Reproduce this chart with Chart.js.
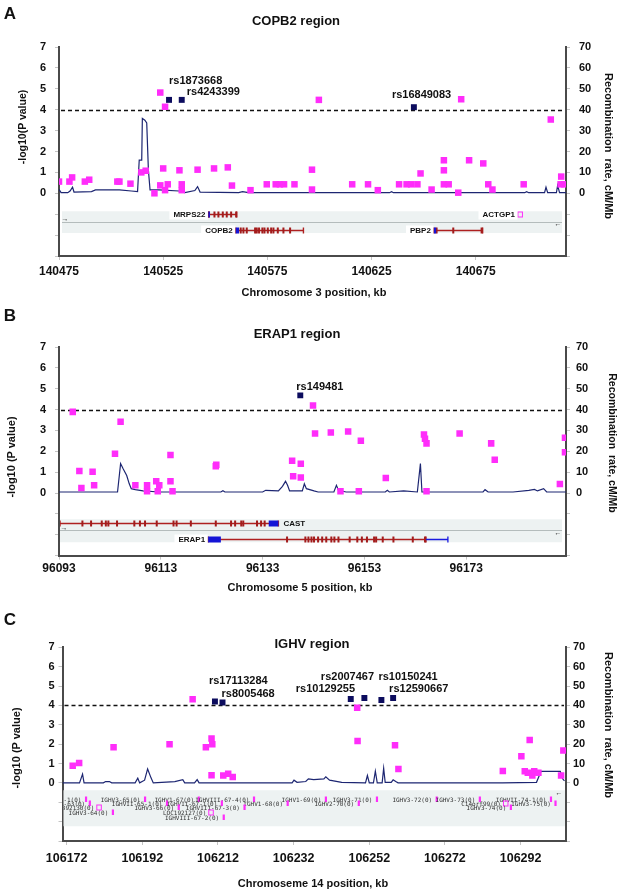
<!DOCTYPE html>
<html>
<head>
<meta charset="utf-8">
<script src="https://cdn.jsdelivr.net/npm/chart.js@4.4.1/dist/chart.umd.min.js"></script>
<style>
html, body { margin: 0; padding: 0; background: #fff; }
#fig { position: relative; width: 620px; height: 893px; overflow: hidden;
       font-family: "Liberation Sans", Arial, sans-serif; color: #111; }
#fig canvas { position: absolute; left: 0; }
.t { position: absolute; white-space: pre; font-weight: bold; line-height: 1;
     transform: translate(-50%, -50%); }
.up { transform: translate(-50%, -50%) rotate(-90deg); }
.down { transform: translate(-50%, -50%) rotate(90deg); }
</style>
</head>
<body>
<div id="fig">
  <canvas id="chA" width="620" height="300" style="top:0px"></canvas>
  <canvas id="chB" width="620" height="305" style="top:290px"></canvas>
  <canvas id="chC" width="620" height="298" style="top:595px"></canvas>

  <div class="t" style="left:10px;top:13px;font-size:17px">A</div>
  <div class="t" style="left:296px;top:20px;font-size:13px">COPB2 region</div>
  <div class="t up" style="left:22px;top:127px;font-size:10.5px">-log10(P value)</div>
  <div class="t down" style="left:608px;top:146px;font-size:11px">Recombination  rate, cM/Mb</div>
  <div class="t" style="left:314px;top:292px;font-size:11px">Chromosome 3 position, kb</div>

  <div class="t" style="left:10px;top:315px;font-size:17px">B</div>
  <div class="t" style="left:297px;top:333px;font-size:13px">ERAP1 region</div>
  <div class="t up" style="left:11px;top:457px;font-size:11px">-log10 (P value)</div>
  <div class="t down" style="left:613px;top:443px;font-size:10.5px">Recombination  rate, cM/Mb</div>
  <div class="t" style="left:300px;top:587px;font-size:11px">Chromosome 5 position, kb</div>

  <div class="t" style="left:10px;top:619px;font-size:17px">C</div>
  <div class="t" style="left:312px;top:643px;font-size:13px">IGHV region</div>
  <div class="t up" style="left:16px;top:748px;font-size:11px">-log10 (P value)</div>
  <div class="t down" style="left:608px;top:725px;font-size:11px">Recombination  rate, cM/Mb</div>
  <div class="t" style="left:313px;top:883px;font-size:11px">Chromoseme 14 position, kb</div>
</div>

<script>
// shared axis ticks (negative ticks are the unlabelled gene-track part)
const yTicks = [-3, -2, -1, 0, 1, 2, 3, 4, 5, 6, 7];
const y2Ticks = [-30, -20, -10, 0, 10, 20, 30, 40, 50, 60, 70];
const threshold = 4;

// ---- A: COPB2 region, chromosome 3 ----
const aXTicks = [140475, 140525, 140575, 140625, 140675];
const aSnpPos = [140475.0, 140480.0, 140481.3, 140487.4, 140489.5, 140503.0, 140504.0, 140509.3, 140514.5, 140516.6,
  140520.8, 140523.6, 140523.6, 140525.0, 140525.9, 140525.9, 140527.2, 140532.8, 140533.9, 140533.9,
  140541.5, 140549.4, 140556.0, 140558.0, 140566.9, 140574.7, 140579.0, 140581.0, 140583.0, 140588.0,
  140596.4, 140596.4, 140599.7, 140615.7, 140623.3, 140628.0, 140638.2, 140641.8, 140644.0, 140647.0,
  140648.5, 140653.8, 140659.7, 140659.7, 140659.7, 140662.0, 140666.6, 140668.0, 140671.8, 140678.6,
  140681.0, 140683.0, 140698.0, 140711.0, 140716.0, 140715.7, 140717.5];
const aSnpLogP = [0.56, 0.56, 0.76, 0.56, 0.65, 0.56, 0.56, 0.46, 1.00, 1.08,
  0.00, 4.82, 0.38, 1.19, 4.14, 0.15, 0.43, 1.10, 0.43, 0.15,
  1.13, 1.19, 1.24, 0.37, 0.15, 0.43, 0.43, 0.43, 0.43, 0.43,
  1.13, 0.18, 4.47, 0.43, 0.43, 0.15, 0.43, 0.43, 0.43, 0.43,
  0.95, 0.18, 1.58, 1.10, 0.43, 0.43, 0.03, 4.50, 1.58, 1.43,
  0.43, 0.18, 0.43, 3.53, 0.80, 0.43, 0.43];
const aTopIds = ['rs1873668', 'rs4243399', 'rs16849083'];
const aTopPos = [140527.8, 140533.9, 140645.3];
const aTopLogP = [4.47, 4.47, 4.12];
const aRecPos = [140475.0, 140476.0, 140479.2, 140480.3, 140481.5, 140482.2, 140490.6, 140492.5, 140504.0, 140509.7,
  140512.7, 140513.5, 140514.7, 140515.0, 140516.2, 140517.1, 140517.9, 140518.7, 140523.0, 140532.6,
  140535.4, 140540.2, 140541.5, 140542.7, 140561.2, 140563.1, 140565.9, 140633.6, 140634.6, 140635.5,
  140698.5, 140699.4, 140700.4, 140708.0, 140708.7, 140709.5, 140713.7, 140714.3, 140715.2, 140718.3];
const aRecRate = [1.9, 0.3, 0.3, 1.1, 2.9, 0.6, 0.8, 1.6, 1.6, 1.1,
  0.8, 15.9, 15.9, 35.8, 35.0, 33.7, 11.1, 1.6, 1.6, 1.1,
  0.3, 1.3, 3.2, 0.6, 0.3, 0.8, 0.3, 0.3, 0.8, 0.3,
  0.3, 0.8, 0.3, 0.3, 2.9, 0.3, 0.3, 3.8, 0.3, 0.3];
const aGeneNames = ['MRPS22', 'COPB2', 'PBP2', 'ACTGP1'];
const aGeneRow = [0, 1, 1, 0];
const aGeneKind = ['gene', 'gene', 'gene', 'pseudo'];
const aGeneSide = ['left', 'left', 'left', 'left'];
const aGeneStart = [140546.7, 140559.8, 140654.9, 140696.2];
const aGeneEnd = [140560.3, 140592.3, 140678.3, 140696.2];
const aGeneExons = [
  [140547.0, 140549.6, 140551.5, 140553.6, 140555.5, 140557.6, 140560.0],
  [140562.2, 140563.5, 140565.1, 140569.1, 140569.9, 140571.0, 140572.6, 140573.6, 140575.2, 140576.8,
   140577.9, 140580.0, 140582.7, 140585.9],
  [140656.2, 140664.2, 140677.8],
  []];
const aGeneUtr = [[140546.7, 140547.3], [140559.8, 140561.4], [140654.9, 140656.0], null];
const aGeneTail = [null, null, null, null];

// ---- B: ERAP1 region, chromosome 5 ----
const bXTicks = [96093, 96113, 96133, 96153, 96173];
const bSnpPos = [96095.7, 96097.0, 96099.6, 96099.9, 96097.4, 96105.1, 96104.0, 96108.0, 96110.3, 96110.3,
  96112.1, 96112.7, 96112.4, 96114.9, 96114.9, 96115.3, 96123.8, 96123.9, 96138.8, 96140.5,
  96139.0, 96140.5, 96142.9, 96143.3, 96146.4, 96149.8, 96152.3, 96148.3, 96151.9, 96157.2,
  96164.7, 96164.9, 96165.2, 96165.2, 96171.7, 96177.9, 96178.6, 96191.4, 96192.4, 96192.4];
const bSnpLogP = [3.89, 1.06, 1.02, 0.37, 0.24, 3.42, 1.88, 0.37, 0.37, 0.08,
  0.56, 0.37, 0.08, 1.82, 0.56, 0.08, 1.28, 1.36, 1.55, 1.40,
  0.80, 0.74, 4.20, 2.85, 2.90, 2.95, 2.50, 0.08, 0.08, 0.72,
  2.80, 2.60, 2.38, 0.08, 2.85, 2.38, 1.60, 0.43, 2.65, 1.95];
const bTopIds = ['rs149481'];
const bTopPos = [96140.4];
const bTopLogP = [4.68];
const bRecPos = [96093.0, 96104.5, 96105.1, 96105.6, 96106.3, 96106.8, 96107.2, 96108.0, 96109.5, 96112.7,
  96124.8, 96125.2, 96125.6, 96133.0, 96133.6, 96136.1, 96136.9, 96137.5, 96137.9, 96138.3,
  96140.8, 96141.2, 96141.6, 96143.1, 96143.9, 96147.0, 96147.5, 96147.9, 96149.4, 96157.1,
  96157.5, 96157.9, 96160.7, 96163.4, 96164.0, 96164.3, 96176.3, 96176.7, 96177.3, 96182.2,
  96185.3, 96186.4, 96187.0, 96188.2, 96188.8, 96192.6];
const bRecRate = [0.5, 0.5, 14.1, 11.6, 8.4, 4.4, 2.1, 1.6, 1.0, 0.5,
  0.5, 1.1, 0.5, 0.5, 1.3, 1.0, 3.2, 5.6, 3.7, 1.0,
  1.0, 4.4, 2.1, 1.0, 0.5, 0.5, 3.7, 1.3, 0.5, 0.5,
  1.3, 0.5, 1.0, 0.5, 14.1, 0.5, 0.5, 1.6, 0.5, 0.5,
  1.3, 1.7, 1.0, 2.1, 0.5, 0.5];
const bGeneNames = ['CAST', 'ERAP1'];
const bGeneRow = [0, 1];
const bGeneKind = ['gene', 'gene'];
const bGeneSide = ['right', 'left'];
const bGeneStart = [96093.2, 96122.3];
const bGeneEnd = [96136.1, 96165.1];
const bGeneExons = [
  [96097.6, 96099.3, 96101.4, 96102.2, 96102.7, 96104.4, 96107.8, 96108.9, 96109.9, 96112.2,
   96115.5, 96116.1, 96118.9, 96123.8, 96126.8, 96127.6, 96128.8, 96129.2, 96131.9, 96132.7, 96133.4],
  [96137.8, 96141.4, 96142.0, 96142.6, 96143.1, 96143.9, 96144.7, 96145.5, 96146.5, 96147.1,
   96147.9, 96150.1, 96151.6, 96152.5, 96153.5, 96154.9, 96155.3, 96156.6, 96158.7, 96162.5, 96164.9]];
const bGeneUtr = [[96134.2, 96136.1], [96122.3, 96124.8]];
const bGeneTail = [null, [96165.1, 96169.4]];

// ---- C: IGHV region, chromosome 14 ----
const cXTicks = [106172, 106192, 106212, 106232, 106252, 106272, 106292];
const cSnpPos = [106173.6, 106175.3, 106184.4, 106199.2, 106205.3, 106208.8, 106210.3, 106210.5, 106210.3, 106213.4,
  106214.7, 106215.9, 106248.8, 106248.9, 106258.8, 106259.7, 106287.3, 106292.2, 106294.4, 106293.1,
  106293.9, 106295.1, 106295.6, 106296.7, 106302.7, 106303.3];
const cSnpLogP = [0.88, 1.03, 1.84, 1.99, 4.32, 1.84, 2.29, 1.99, 0.40, 0.38,
  0.47, 0.31, 3.88, 2.16, 1.94, 0.72, 0.62, 1.37, 2.21, 0.60,
  0.52, 0.38, 0.60, 0.52, 0.38, 1.67];
const cTopIds = ['rs17113284', 'rs8005468', 'rs10129255', 'rs2007467', 'rs10150241', 'rs12590667'];
const cTopPos = [106211.2, 106213.2, 106247.1, 106250.7, 106255.2, 106258.3];
const cTopLogP = [4.20, 4.15, 4.33, 4.38, 4.28, 4.38];
const cRecPos = [106170.9, 106175.4, 106176.2, 106176.6, 106181.7, 106182.3, 106183.3, 106183.9, 106190.1, 106190.8,
  106191.3, 106192.6, 106193.4, 106194.3, 106194.9, 106200.6, 106202.7, 106203.2, 106205.8, 106206.5,
  106207.0, 106231.6, 106232.1, 106232.9, 106235.2, 106235.9, 106237.3, 106240.0, 106240.5, 106241.5,
  106244.7, 106251.0, 106251.5, 106252.0, 106253.1, 106253.6, 106254.1, 106255.4, 106255.8, 106256.2,
  106257.8, 106258.3, 106259.0, 106259.6, 106287.2, 106296.2, 106297.4, 106302.5, 106303.1, 106303.6];
const cRecRate = [0, 0, 4.5, 0, 0, 0.7, 0.7, 0, 0, 2.4,
  0, 1.4, 7.2, 2.6, 0, 0.7, 1.7, 0, 0, 1.7,
  0, 0, 1.4, 0.3, 0.7, 2.1, 1.7, 2.1, 3.1, 1.4,
  0.3, 0, 3.8, 0, 0, 6.0, 0, 0, 7.6, 0.3,
  0.3, 1.6, 0.7, 0, 0, 0.3, 6.0, 5.9, 2.1, 1.0];
const cGeneNames = ['IGHVII-62-1(0)', 'IGHV3-65(0)', 'IGHV1-67(0)', 'IGHVIII-67-4(0)', 'IGHV1-69(0)', 'IGHV3-71(0)',
  'IGHV3-72(0)', 'IGHV3-73(0)', 'IGHVII-74-1(0)',
  'IGHV3-63(0)', 'IGHVII-65-1(0)', 'IGHVII-67-1(0)', 'IGHV1-68(0)', 'IGHV2-70(0)', 'C14orf99(0)', 'IGHV3-75(0)',
  'LOC392130(0)', 'IGHV3-66(0)', 'IGHVIII-67-3(0)', 'IGHV3-74(0)',
  'IGHV3-64(0)', 'LOC192127(0)',
  'IGHVIII-67-2(0)'];
const cGenePos = [106177.1, 106192.7, 106206.9, 106221.5, 106240.5, 106254.0, 106269.8, 106281.2, 106300.0,
  106178.1, 106198.5, 106213.0, 106230.4, 106249.2, 106288.0, 106301.2,
  106180.5, 106201.6, 106219.0, 106289.4,
  106184.2, 106210.1,
  106213.5];
const cGeneRow = [0, 0, 0, 0, 0, 0, 0, 0, 0, 1, 1, 1, 1, 1, 1, 1, 2, 2, 2, 2, 3, 3, 4];
const cGeneKind = ['bar', 'bar', 'bar', 'bar', 'bar', 'bar', 'bar', 'bar', 'bar',
  'bar', 'bar', 'bar', 'bar', 'bar', 'pseudo', 'bar',
  'pseudo', 'bar', 'bar', 'bar',
  'bar', 'pseudo', 'bar'];

const FONT = '"Liberation Sans", Arial, sans-serif';
const PINK = '#ff2dfa';
const NAVY = '#0c0c5e';

function geneList(names, rows, kinds, sides, starts, ends, exons, utr, tail) {
  return names.map(function (name, i) {
    return {
      name: name, row: rows[i], kind: kinds[i], side: sides ? sides[i] : 'left',
      start: starts[i], end: ends ? ends[i] : starts[i],
      exons: exons ? exons[i] : [], utr: utr ? utr[i] : null, tail: tail ? tail[i] : null
    };
  });
}

function drawGene(ctx, x, y, o, g) {
  const cy = Math.round(y.getPixelForValue(o.rowY[g.row])) + 0.5;
  const x0 = x.getPixelForValue(g.start);
  const x1 = x.getPixelForValue(g.end);
  if (g.kind === 'pseudo') {
    ctx.strokeStyle = PINK; ctx.lineWidth = 1;
    ctx.strokeRect(x0 - 2, cy - 2.5, 4.5, 5);
  } else if (g.kind === 'bar') {
    ctx.fillStyle = PINK;
    ctx.fillRect(x0 - 1, cy - 3, 2.2, 5.5);
  } else {
    ctx.strokeStyle = '#ae2020'; ctx.lineWidth = 1.4;
    ctx.beginPath(); ctx.moveTo(x0, cy); ctx.lineTo(x1, cy);
    ctx.moveTo(x0, cy - 3); ctx.lineTo(x0, cy + 3);
    ctx.moveTo(x1, cy - 3); ctx.lineTo(x1, cy + 3);
    ctx.stroke();
    ctx.fillStyle = '#a31c1c';
    g.exons.forEach(function (e) {
      ctx.fillRect(x.getPixelForValue(e) - 1, cy - 3, 2, 6);
    });
    if (g.utr) {
      const u0 = x.getPixelForValue(g.utr[0]), u1 = x.getPixelForValue(g.utr[1]);
      ctx.fillStyle = '#1414d6';
      ctx.fillRect(u0, cy - 3, Math.max(u1 - u0, 1.5), 6);
    }
    if (g.tail) {
      const t0 = x.getPixelForValue(g.tail[0]), t1 = x.getPixelForValue(g.tail[1]);
      ctx.strokeStyle = '#1a1ae0'; ctx.lineWidth = 1.3;
      ctx.beginPath(); ctx.moveTo(t0, cy); ctx.lineTo(t1, cy);
      ctx.moveTo(t1, cy - 3); ctx.lineTo(t1, cy + 3); ctx.stroke();
    }
  }
  // gene label
  ctx.font = o.labelFont;
  ctx.textBaseline = 'middle';
  const w = ctx.measureText(g.name).width;
  if (g.side === 'left') {
    const right = x0 - o.labelGap - (g.kind === 'gene' ? 0 : 2);
    if (o.labelBg) {
      ctx.fillStyle = '#fff';
      ctx.fillRect(right - w - 4, cy - 5, w + 4 + o.labelGap - 0.5, 10);
    }
    ctx.fillStyle = o.labelColor;
    ctx.textAlign = 'right';
    ctx.fillText(g.name, right, cy + 0.5);
  } else {
    ctx.fillStyle = o.labelColor;
    ctx.textAlign = 'left';
    ctx.fillText(g.name, x1 + o.labelGap + 2, cy);
  }
}

const trackPlugin = {
  id: 'track',
  beforeDatasetsDraw: function (chart, args, o) {
    const ctx = chart.ctx, ca = chart.chartArea, y = chart.scales.y;
    ctx.save();
    ctx.fillStyle = '#edf2f2';
    o.bands.forEach(function (b) {
      const t = y.getPixelForValue(b[0]), bt = y.getPixelForValue(b[1]);
      ctx.fillRect(ca.left + o.insetL, t, ca.right - ca.left - o.insetL - o.insetR, bt - t);
    });
    if (o.divider !== null) {
      const dy = Math.round(y.getPixelForValue(o.divider)) + 0.5;
      ctx.strokeStyle = '#b4bcbc'; ctx.lineWidth = 1;
      ctx.beginPath(); ctx.moveTo(ca.left + o.insetL, dy); ctx.lineTo(ca.right - o.insetR, dy); ctx.stroke();
    }
    // significance threshold
    const ty = Math.round(y.getPixelForValue(threshold)) + 0.5;
    ctx.strokeStyle = '#111'; ctx.lineWidth = 1.3; ctx.setLineDash([4, 3]);
    ctx.beginPath(); ctx.moveTo(ca.left + 2, ty); ctx.lineTo(ca.right - 2, ty); ctx.stroke();
    ctx.restore();
  },
  afterDatasetsDraw: function (chart, args, o) {
    const ctx = chart.ctx, ca = chart.chartArea, x = chart.scales.x, y = chart.scales.y;
    ctx.save();
    ctx.beginPath(); ctx.rect(ca.left + 1, ca.top, ca.right - ca.left - 2, ca.bottom - ca.top); ctx.clip();
    o.genes.forEach(function (g) { drawGene(ctx, x, y, o, g); });
    ctx.fillStyle = '#222'; ctx.font = '7px ' + FONT; ctx.textBaseline = 'middle'; ctx.textAlign = 'center';
    o.arrows.forEach(function (a) {
      const ax = a.side === 'left' ? ca.left + a.dx : ca.right + a.dx;
      ctx.fillText(a.ch, ax, y.getPixelForValue(a.v));
    });
    ctx.restore();
    // labels of the top SNPs
    const meta = chart.getDatasetMeta(1);
    ctx.save();
    ctx.font = 'bold 11px ' + FONT; ctx.fillStyle = '#111';
    ctx.textBaseline = 'middle'; ctx.textAlign = 'left';
    meta.data.forEach(function (pt, i) {
      ctx.fillText(o.ids[i], pt.x + o.labelDx[i], pt.y + o.labelDy[i]);
    });
    ctx.restore();
  }
};

function xy(xs, ys) { return xs.map(function (v, i) { return { x: v, y: ys[i] }; }); }

function buildPanel(id, p) {
  const tickFont = { family: FONT, weight: 'bold', size: p.yFont };
  return new Chart(document.getElementById(id), {
    type: 'scatter',
    data: {
      datasets: [
        { data: xy(p.snpPos, p.snpLogP), pointStyle: 'rect', pointRadius: 4.6,
          backgroundColor: PINK, borderWidth: 0 },
        { data: xy(p.topPos, p.topLogP), pointStyle: 'rect', pointRadius: 4.2,
          backgroundColor: NAVY, borderWidth: 0 },
        { data: xy(p.recPos, p.recRate), yAxisID: 'y2', showLine: true, pointRadius: 0,
          borderColor: '#1d2672', borderWidth: 1.2, tension: 0, fill: false }
      ]
    },
    options: {
      responsive: false,
      animation: false,
      events: [],
      layout: { padding: { top: p.padTop, left: 0, right: 0, bottom: 0 } },
      plugins: {
        legend: { display: false },
        tooltip: { enabled: false },
        track: p.track
      },
      scales: {
        x: {
          type: 'linear', min: p.xMin, max: p.xMax,
          afterBuildTicks: function (s) { s.ticks = p.xTicks.map(function (v) { return { value: v }; }); },
          afterFit: function (s) { s.height = p.bottomH; },
          ticks: { autoSkip: false, maxRotation: 0, padding: p.xPad, color: '#111',
                   font: { family: FONT, weight: 'bold', size: p.xFont },
                   callback: function (v) { return String(v); } },
          grid: { drawOnChartArea: false, tickLength: 4, color: '#c4c4c4' },
          border: { color: '#4a4a4a', width: 2 }
        },
        y: {
          position: 'left', min: -3, max: 7,
          afterBuildTicks: function (s) { s.ticks = yTicks.map(function (v) { return { value: v }; }); },
          afterFit: function (s) { s.width = p.leftW; },
          ticks: { padding: p.yPad, color: '#111', font: tickFont,
                   callback: function (v) { return v >= 0 ? String(v) : ''; } },
          grid: { drawOnChartArea: false, tickLength: 4, color: '#c4c4c4' },
          border: { color: '#4a4a4a', width: 2 }
        },
        y2: {
          position: 'right', min: -30, max: 70,
          afterBuildTicks: function (s) { s.ticks = y2Ticks.map(function (v) { return { value: v }; }); },
          afterFit: function (s) { s.width = p.rightW; },
          ticks: { padding: p.y2Pad, color: '#111', font: tickFont,
                   callback: function (v) { return v >= 0 ? String(v) : ''; } },
          grid: { drawOnChartArea: false, tickLength: 4, color: '#c4c4c4' },
          border: { color: '#4a4a4a', width: 2 }
        }
      }
    },
    plugins: [trackPlugin]
  });
}

buildPanel('chA', {
  snpPos: aSnpPos, snpLogP: aSnpLogP, topPos: aTopPos, topLogP: aTopLogP, recPos: aRecPos, recRate: aRecRate,
  xTicks: aXTicks, xMin: 140475, xMax: 140718.3,
  padTop: 47, leftW: 59, rightW: 54, bottomH: 44, yPad: 9, y2Pad: 9, xPad: 4, yFont: 11, xFont: 12,
  track: {
    ids: aTopIds, labelDx: [0, 5, -22], labelDy: [-18.5, -8, -12],
    bands: [[-0.86, -1.37], [-1.42, -1.90]], divider: -1.395, insetL: 3, insetR: 4,
    rowY: [-1.0, -1.74], labelFont: 'bold 8px ' + FONT, labelColor: '#111', labelGap: 3, labelBg: true,
    arrows: [{ side: 'left', dx: 6, v: -1.25, ch: '\u2192' }, { side: 'right', dx: -8, v: -1.49, ch: '\u2190' }],
    genes: geneList(aGeneNames, aGeneRow, aGeneKind, aGeneSide, aGeneStart, aGeneEnd, aGeneExons, aGeneUtr, aGeneTail)
  }
});

buildPanel('chB', {
  snpPos: bSnpPos, snpLogP: bSnpLogP, topPos: bTopPos, topLogP: bTopLogP, recPos: bRecPos, recRate: bRecRate,
  xTicks: bXTicks, xMin: 96093, xMax: 96192.6,
  padTop: 57, leftW: 59, rightW: 54, bottomH: 39.4, yPad: 9, y2Pad: 6, xPad: 2, yFont: 11, xFont: 12,
  track: {
    ids: bTopIds, labelDx: [-4], labelDy: [-8.7],
    bands: [[-1.26, -1.77], [-1.81, -2.36]], divider: -1.79, insetL: 1, insetR: 4,
    rowY: [-1.45, -2.22], labelFont: 'bold 8px ' + FONT, labelColor: '#111', labelGap: 3, labelBg: true,
    arrows: [{ side: 'left', dx: 5, v: -1.69, ch: '\u2192' }, { side: 'right', dx: -8, v: -1.93, ch: '\u2190' }],
    genes: geneList(bGeneNames, bGeneRow, bGeneKind, bGeneSide, bGeneStart, bGeneEnd, bGeneExons, bGeneUtr, bGeneTail)
  }
});

buildPanel('chC', {
  snpPos: cSnpPos, snpLogP: cSnpLogP, topPos: cTopPos, topLogP: cTopLogP, recPos: cRecPos, recRate: cRecRate,
  xTicks: cXTicks, xMin: 106170.9, xMax: 106304,
  padTop: 52.3, leftW: 62.5, rightW: 54, bottomH: 52, yPad: 4, y2Pad: 3, xPad: 6, yFont: 11, xFont: 12.5,
  track: {
    ids: cTopIds, labelDx: [-6, -1, -55, -43.5, -3, -4], labelDy: [-21, -8.4, -10, -21, -22.7, -9],
    bands: [[-0.38, -2.24]], divider: null, insetL: 1, insetR: 1,
    rowY: [-0.81, -1.03, -1.26, -1.52, -1.78], labelFont: '6px "DejaVu Sans Mono", monospace',
    labelColor: '#333', labelGap: 2.5, labelBg: false,
    arrows: [{ side: 'right', dx: -7, v: -0.5, ch: '\u2190' }],
    genes: geneList(cGeneNames, cGeneRow, cGeneKind, null, cGenePos, null, null, null, null)
  }
});
</script>
</body>
</html>
